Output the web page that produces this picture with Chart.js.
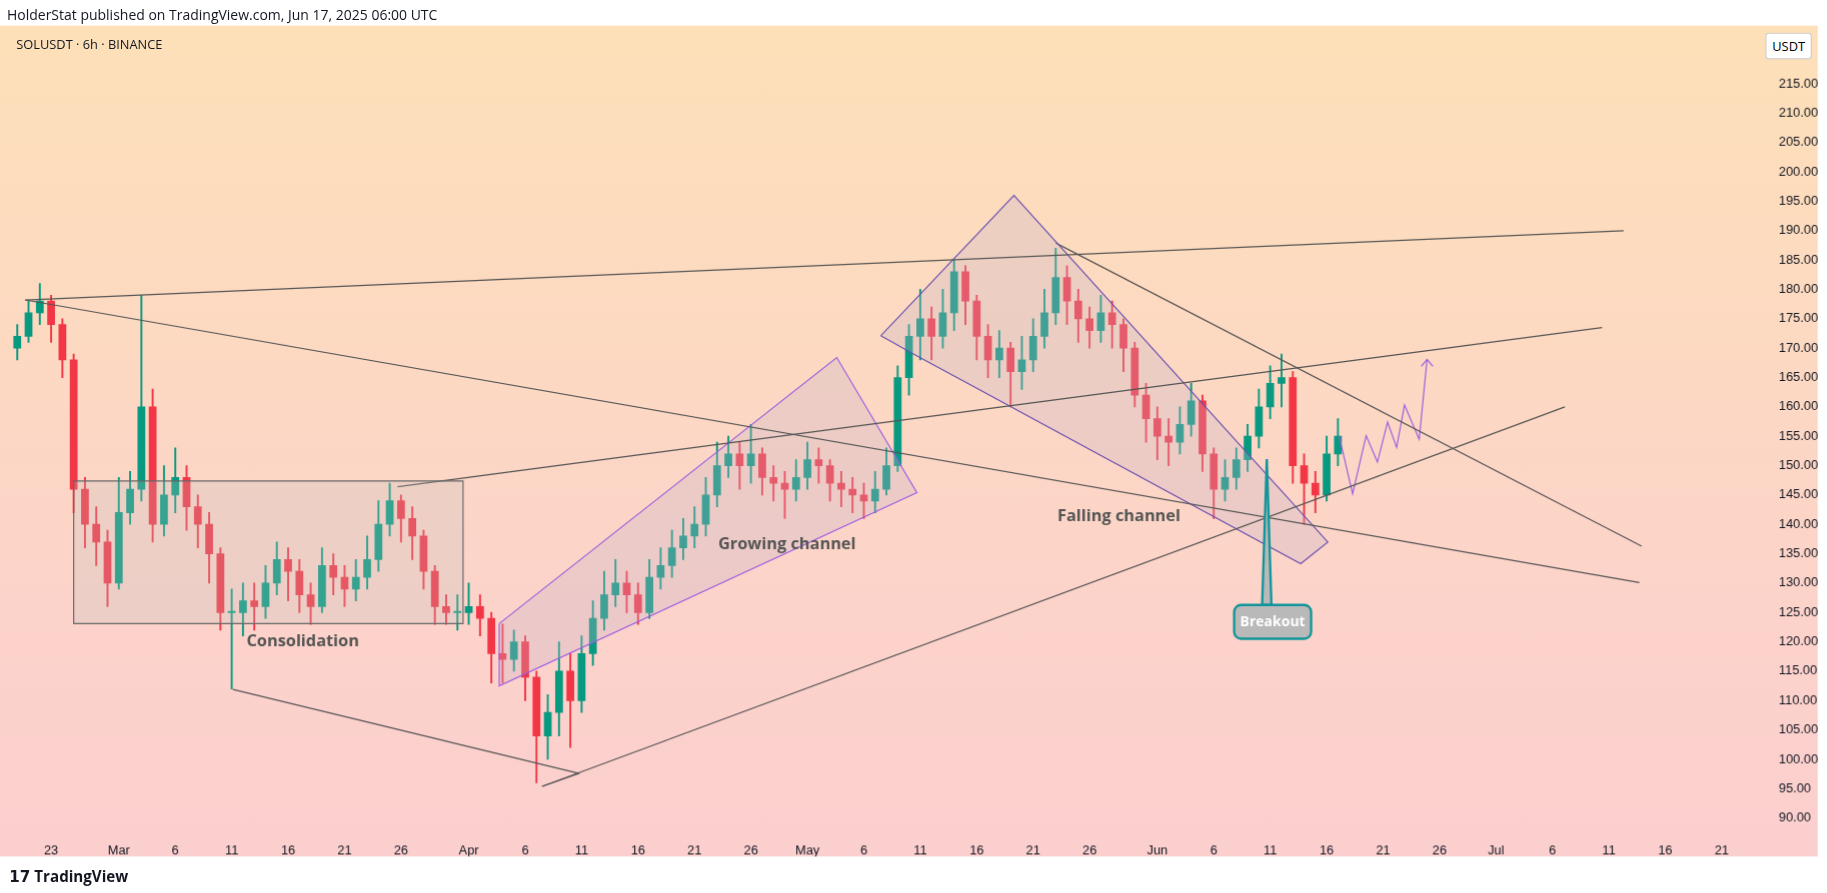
<!DOCTYPE html>
<html>
<head>
<meta charset="utf-8">
<script src="https://cdn.jsdelivr.net/npm/chart.js@4"></script>
<style>
  body { margin: 0; width: 1827px; height: 893px; background: #fff; font-family: "Open Sans", "DejaVu Sans", sans-serif; overflow: hidden; }
  #wrap { position: absolute; left: 0; top: 0; width: 1568px; height: 766px; transform: scale(1.1652); transform-origin: 0 0; }
  #top { position: absolute; left: 6px; top: 4px; font-size: 12px; color: #131722; }
  #frame { position: absolute; left: 0; top: 22px; width: 1560px; height: 713px;
           background: linear-gradient(#fde0b8, #fcd2cb 75%, #fbcfce); }
  #sym { position: absolute; left: 14px; top: 30px; font-size: 11px; color: #131722; }
  #usdt { position: absolute; left: 1515px; top: 28px; font-size: 11px; padding: 3px 5px; border: 1px solid #ccc; border-radius: 3px; background: #fff; }
  #logo { position: absolute; left: 8px; top: 743px; font-size: 13px; font-weight: bold; color: #131722; }
  canvas { position: absolute; left: 0; top: 22px; }
</style>
</head>
<body>
<div id="wrap">
<div id="top">HolderStat published on TradingView.com, Jun 17, 2025 06:00 UTC</div>
<div id="frame"></div>
<canvas id="c" width="1560" height="713"></canvas>
<div id="sym">SOLUSDT · 6h · BINANCE</div>
<div id="usdt">USDT</div>
<div id="logo">𝟭𝟳 TradingView</div>
</div>
<script>
// day index 0 = Feb 23, 2025; candles start Feb 20 (day -3)
const firstDay = -3;
const firstOpen = 170;
const closes = [172,176,178,174,168,146,140,137,130,142,146,160,140,145,148,143,140,135,125,125,127,126,130,134,132,128,126,133,131,129,131,134,140,144,141,138,132,126,125,125,126,124,118,117,120,114,104,108,115,110,118,124,128,130,128,125,131,133,136,138,140,145,150,152,150,152,148,147,146,148,151,150,147,146,145,144,146,150,165,172,175,172,176,183,178,172,168,170,166,168,172,176,182,178,175,173,176,174,170,162,158,155,154,157,161,152,146,148,151,155,160,164,165,150,147,145,152,155];
const highs = [174,178,181,179,175,169,148,143,139,148,149,179,163,150,153,150,145,142,136,129,130,130,133,137,136,134,130,136,135,133,134,138,144,147,145,143,139,133,128,128,130,128,125,123,122,121,115,111,120,118,121,127,132,134,132,130,134,136,139,141,143,148,154,155,154,157,153,150,149,151,154,153,151,149,148,147,149,153,167,174,180,177,180,185,184,179,174,173,171,172,175,180,187,184,180,177,179,178,175,171,164,160,158,160,164,162,153,151,153,157,163,167,169,166,152,149,155,158];
const lows = [168,171,174,171,165,142,136,133,126,129,140,144,137,138,142,139,136,130,122,112,121,122,124,128,127,125,123,125,128,126,127,129,132,138,137,134,129,123,123,122,123,121,113,113,115,110,96,100,104,102,108,116,122,126,125,123,124,129,131,134,136,138,143,148,146,147,145,144,141,144,146,147,144,143,142,141,142,145,149,162,168,168,170,173,174,168,165,165,160,163,166,170,174,174,171,170,171,170,166,160,154,151,150,152,155,149,141,144,146,149,153,158,160,147,140,142,144,150];

const tickDays = [0,6,11,16,21,26,31,37,42,47,52,57,62,67,72,77,82,87,92,98,103,108,113,118,123,128,133,138,143,148];
const tickLabels = ["23","Mar","6","11","16","21","26","Apr","6","11","16","21","26","May","6","11","16","21","26","Jun","6","11","16","21","26","Jul","6","11","16","21"];

// drawn annotations, in [day, price]
const resistTop = [[-2.3,178.2],[139.3,190.0]];
const longDown = [[-2.3,178.2],[140.7,130.1]];
const consolBox = [[2,147.4],[36.5,147.4],[36.5,123.1],[2,123.1],[2,147.4]];
const lowerLeft = [[16.1,111.9],[46.8,97.6]];
const midRise = [[30.7,146.4],[137.4,173.5]];
const baseRise = [[43.5,95.4],[46.8,97.6]];
const bigRise = [[43.5,95.4],[134.1,160.0]];
const growChan = [[39.7,123.1],[69.6,168.4],[76.7,145.4],[39.7,112.5],[39.7,123.1]];
const fallChan = [[73.5,172.1],[85.3,196.0],[113.1,137.0],[110.7,133.3],[76.6,168.8],[73.5,172.1]];
const downRight = [[89.0,187.9],[140.9,136.3]];
const projection = [[114.1,155.1],[115.3,145.2],[116.5,155.1],[117.5,150.6],[118.4,157.4],[119.2,153.1],[119.9,160.3],[121.2,154.5],[121.9,168.1]];
const breakoutTip = [107.7,151.1];
const labels = [["Consolidation",22.3,120.0],["Growing channel",65.2,136.5],["Falling channel",94.6,141.4]];

const days = closes.map((c, i) => firstDay + i);
const opens = closes.map((c, i) => i === 0 ? firstOpen : closes[i - 1]);
const colors = closes.map((c, i) => c >= opens[i] ? "#089981" : "#f23645");

const pts = a => a.map(p => ({x: p[0], y: p[1]}));
const lineDs = (a, color, fill, bg) => ({
  type: "line", data: pts(a), borderColor: color, borderWidth: 1, pointRadius: 0,
  fill: fill ? "shape" : false, backgroundColor: bg || "transparent", tension: 0, order: 0
});

const overlay = {
  id: "overlay",
  afterDatasetsDraw(chart) {
    const {ctx, scales: {x, y}} = chart;
    ctx.save();
    ctx.font = "bold 14px 'Open Sans', sans-serif";
    ctx.fillStyle = "#555";
    ctx.textAlign = "center";
    ctx.textBaseline = "middle";
    labels.forEach(l => ctx.fillText(l[0], x.getPixelForValue(l[1]), y.getPixelForValue(l[2])));
    // breakout callout
    const tx = x.getPixelForValue(breakoutTip[0]), ty = y.getPixelForValue(breakoutTip[1]);
    const bx = tx - 28, by = ty + 125, bw = 66, bh = 29;
    ctx.fillStyle = "#b9b9b9";
    ctx.strokeStyle = "#11959a";
    ctx.lineWidth = 2;
    ctx.beginPath();
    ctx.moveTo(tx, ty);
    ctx.lineTo(tx - 4, by);
    ctx.lineTo(tx + 4, by);
    ctx.closePath();
    ctx.fill(); ctx.stroke();
    ctx.beginPath();
    ctx.roundRect(bx, by, bw, bh, 6);
    ctx.fill(); ctx.stroke();
    ctx.fillStyle = "#fff";
    ctx.font = "bold 12px 'Open Sans', sans-serif";
    ctx.fillText("Breakout", bx + bw / 2, by + bh / 2);
    // arrow head on projection
    const e = projection[projection.length - 1];
    const ex = x.getPixelForValue(e[0]), ey = y.getPixelForValue(e[1]);
    ctx.strokeStyle = "#9c5ce0"; ctx.lineWidth = 1;
    ctx.beginPath();
    ctx.moveTo(ex - 5, ey + 6); ctx.lineTo(ex, ey); ctx.lineTo(ex + 5, ey + 6);
    ctx.stroke();
    ctx.restore();
  }
};

new Chart(document.getElementById("c"), {
  type: "bar",
  data: {
    datasets: [
      { data: days.map((d, i) => ({x: d, y: [lows[i], highs[i]]})), backgroundColor: colors,
        barThickness: 1, grouped: false, order: 2 },
      { data: days.map((d, i) => ({x: d, y: [opens[i], closes[i]]})), backgroundColor: colors,
        barThickness: 6, minBarLength: 1, grouped: false, order: 1 },
      lineDs(resistTop, "#555"),
      lineDs(longDown, "#555"),
      lineDs(consolBox, "#666", true, "rgba(190,190,190,0.25)"),
      lineDs(lowerLeft, "#555"),
      lineDs(midRise, "#555"),
      lineDs(baseRise, "#555"),
      lineDs(bigRise, "#555"),
      lineDs(growChan, "#9c5ce0", true, "rgba(200,180,200,0.3)"),
      lineDs(fallChan, "#6a4fb0", true, "rgba(200,180,200,0.3)"),
      lineDs(downRight, "#555"),
      lineDs(projection, "#9c5ce0")
    ]
  },
  options: {
    responsive: false,
    animation: false,
    devicePixelRatio: 1.1652,
    layout: { padding: { left: 8, top: 0, right: 0, bottom: 0 } },
    plugins: { legend: { display: false }, tooltip: { enabled: false } },
    scales: {
      x: {
        type: "linear", min: -3.7, max: 151.2, offset: false,
        grid: { display: false }, border: { display: false },
        afterFit: s => { s.height = 23; },
        afterBuildTicks: s => { s.ticks = tickDays.map(v => ({value: v})); },
        ticks: { autoSkip: false, maxRotation: 0, color: "#131722", font: { size: 11 },
                 callback: v => tickLabels[tickDays.indexOf(v)] }
      },
      y: {
        position: "right", min: 87.9, max: 221.6,
        grid: { display: false }, border: { display: false },
        afterFit: s => { s.width = 52; },
        afterBuildTicks: s => { const t = []; for (let v = 90; v <= 215; v += 5) t.push({value: v}); s.ticks = t; },
        ticks: { color: "#131722", font: { size: 11 }, padding: 10, callback: v => v.toFixed(2) }
      }
    }
  },
  plugins: [overlay]
});
</script>
</body>
</html>
